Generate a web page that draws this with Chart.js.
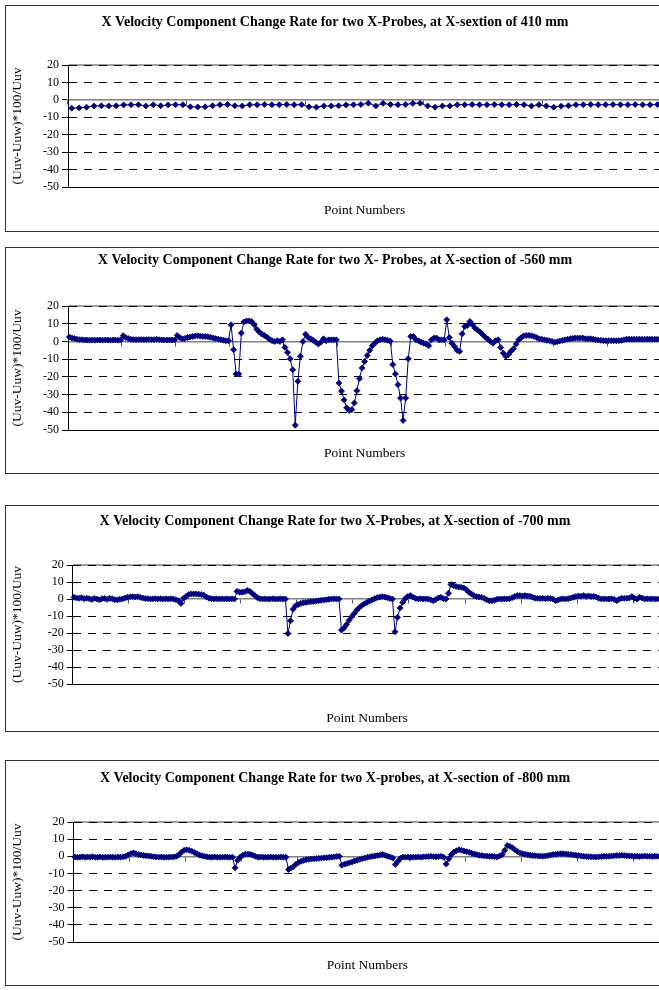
<!DOCTYPE html>
<html>
<head>
<meta charset="utf-8">
<script src="https://cdn.jsdelivr.net/npm/chart.js@4.4.1/dist/chart.umd.min.js"></script>
<style>
  html, body { margin: 0; padding: 0; background: #fff; width: 659px; height: 990px; overflow: hidden; }
  .panel { position: absolute; left: 5px; width: 660px; border: 1px solid #333; background: #fff; }
  .panel canvas { display: block; }
</style>
</head>
<body>
<div class="panel" id="p410"><canvas></canvas></div>
<div class="panel" id="p560"><canvas></canvas></div>
<div class="panel" id="p700"><canvas></canvas></div>
<div class="panel" id="p800"><canvas></canvas></div>
<script>
// Titel der vier Diagramme
const titles = [
  "X Velocity Component Change Rate for two X-Probes, at X-sextion of 410 mm",
  "X Velocity Component Change Rate for two X- Probes, at X-section of -560 mm",
  "X Velocity Component Change Rate for two X-Probes, at X-section of -700 mm",
  "X Velocity Component Change Rate for two X-probes, at X-section of -800 mm",
];
const xTitle = "Point Numbers";
const yTitle = "(Uuv-Uuw)*100/Uuv";
const yTicks = [20, 10, 0, -10, -20, -30, -40, -50];

const rate410 = [
  -4.8, -4.6, -4.2, -3.5, -3.4, -3.5, -3.4, -2.9, -2.8, -2.8, -3.5, -2.8, -3.4, -2.9, -2.8, -2.8,
  -4.0, -4.1, -4.0, -3.4, -2.8, -2.7, -3.4, -3.5, -2.8, -2.8, -2.7, -2.8, -2.8, -2.7, -2.8, -2.8,
  -4.0, -4.2, -3.5, -3.5, -3.4, -2.9, -2.8, -2.7, -1.9, -3.5, -2.0, -2.7, -2.8, -2.7, -2.0, -1.9,
  -3.5, -4.2, -3.5, -3.5, -2.8, -2.8, -2.7, -2.8, -2.8, -2.7, -2.8, -2.8, -2.7, -2.8, -3.5, -2.8,
  -3.5, -4.2, -3.6, -3.4, -2.8, -2.8, -2.7, -2.8, -2.8, -2.7, -2.8, -2.8, -2.7, -2.8, -2.8, -2.7,
];

const rate560 = [
  2.5, 2.0, 1.6, 1.3, 1.0, 1.0, 0.8, 0.8, 0.7, 0.8, 0.7, 0.8, 0.8, 0.7, 0.8, 0.8, 0.7, 0.8, 0.8, 0.7, 0.8,
  3.2, 2.2, 1.6, 1.2, 1.0, 1.0, 1.0, 1.1, 1.0, 1.0, 1.1, 1.0, 1.0, 1.2, 1.0, 0.9, 0.8, 0.8, 0.8, 0.8, 0.8,
  3.4, 2.2, 1.5, 1.7, 2.2, 2.5, 2.8, 3.0, 3.2, 3.0, 2.8, 2.8, 2.7, 2.3, 2.0, 1.6, 1.3, 1.0, 0.7, 0.4, 0.4,
  9.4, -4.7, -18.4, -18.4, 4.7, 11.0, 11.6, 11.6, 11.3, 9.4, 6.9, 5.3, 4.1, 3.4, 2.4, 1.3, 0.4, 0.0, 0.4, 0.0, 0.9,
  -3.4, -6.2, -9.8, -16.0, -47.3, -22.5, -8.4, 0.0, 4.1, 2.2, 1.5, 0.6, -0.4, -1.5, -0.4, 1.5, 0.4, 0.9, 0.9, 0.9, 0.9,
  -23.5, -28.0, -33.0, -37.5, -39.0, -38.5, -34.7, -27.8, -21.0, -15.0, -11.3, -7.9, -5.0, -2.4, -1.0, 0.4, 0.9, 1.3, 0.9, 0.6, 0.2,
  -13.0, -18.4, -24.4, -32.0, -44.6, -32.0, -9.8, 2.8, 2.8, 0.9, 0.4, -0.4, -1.0, -1.5, -2.4, 0.9, 1.9, 1.9, 0.9, 0.9, 0.9,
  12.2, 2.2, -1.0, -2.8, -5.0, -5.6, 4.3, 8.4, 9.0, 11.3, 9.4, 7.5, 6.4, 5.3, 3.8, 2.4, 1.3, 0.0, -1.0, 0.4, 0.9,
  -3.4, -6.6, -8.4, -7.5, -5.6, -4.1, -1.5, 0.9, 2.2, 3.2, 3.4, 3.4, 3.2, 2.8, 2.2, 1.5, 1.3, 0.9, 0.6, 0.4, 0.0,
  -0.4, -0.2, 0.2, 0.5, 0.9, 1.2, 1.5, 1.7, 1.9, 1.9, 1.9, 1.9, 1.5, 1.5, 1.5, 1.3, 0.9, 0.8, 0.6, 0.4, 0.4,
  0.4, 0.4, 0.4, 0.4, 0.4, 0.6, 0.9, 1.3, 1.3, 1.2, 1.3, 1.3, 1.3, 1.2, 1.3, 1.3, 1.3, 1.3, 1.2, 1.3, 1.3,
];

const rate700 = [
  1.0, 0.6, 0.4, 0.8, 0.2, 0.5, 0.2, -0.3, 0.4, 0.0, -0.5, 0.2, 0.3, -0.2, 0.4, 0.2, -0.4, -0.5, -0.2, 0.0, 0.6,
  1.0, 1.3, 1.4, 1.2, 1.4, 1.0, 0.6, 0.3, 0.2, 0.0, 0.1, 0.2, 0.0, 0.2, 0.0, 0.1, 0.0, 0.2, 0.0, -0.4, -1.0,
  -2.6, 0.5, 1.5, 2.6, 3.0, 3.0, 3.0, 2.8, 2.6, 2.2, 1.2, 0.4, 0.2, 0.0, 0.1, 0.0, 0.1, 0.0, 0.1, 0.0, 0.1, 0.0,
  4.5, 4.0, 4.0, 4.2, 5.0, 4.5, 3.2, 2.0, 0.8, 0.2, 0.0, 0.1, 0.0, 0.0, 0.1, 0.0, 0.0, 0.1, 0.0, 0.0,
  -20.3, -12.8, -6.0, -4.0, -3.2, -2.6, -2.2, -2.0, -1.8, -1.5, -1.4, -1.2, -1.0, -0.8, -0.6, -0.4, -0.2, 0.0, 0.1, 0.0, 0.0,
  -18.3, -17.0, -15.0, -12.5, -10.5, -8.5, -6.5, -5.0, -3.8, -2.8, -2.0, -1.2, -0.5, 0.2, 0.8, 1.2, 1.4, 1.2, 0.8, 0.3, 0.0,
  -19.3, -10.8, -5.3, -2.0, 0.2, 1.4, 2.0, 1.2, 0.4, 0.0, 0.2, 0.0, 0.1, 0.0, -0.4, -1.0, -0.4, 0.6, 1.0, 0.2, 0.0,
  3.4, 8.5, 7.9, 7.3, 7.1, 6.9, 6.5, 5.5, 4.0, 3.0, 2.0, 1.4, 1.2, 1.0, 0.4, -0.5, -1.0, -1.0, -0.8, -0.2, 0.0,
  0.0, 0.1, 0.0, 0.2, 0.8, 1.5, 2.0, 2.0, 1.8, 2.0, 1.8, 1.6, 1.0, 0.5, 0.4, 0.3, 0.4, 0.2, 0.4, 0.3, 0.0,
  -1.0, -0.6, 0.0, 0.1, 0.0, 0.2, 0.6, 1.0, 1.5, 1.8, 1.6, 2.0, 1.5, 1.8, 1.5, 1.6, 1.2, 0.4, 0.0, 0.1, 0.0,
  0.0, 0.1, -0.2, -1.0, -0.2, 0.5, 0.4, 0.5, 0.6, 1.4, 0.4, 0.0, 1.0, 0.6, 0.0, 0.1, 0.0, 0.1, 0.0, 0.0, 0.1,
];

const rate800 = [
  -0.4, -0.6, -0.5, -0.3, -0.6, -0.4, -0.5, -0.2, -0.6, -0.5, -0.4, -0.6, -0.5, -0.5, -0.4, -0.6, -0.5, -0.4, -0.5, -0.3, 0.0,
  0.8, 1.5, 2.0, 1.5, 1.0, 0.8, 0.5, 0.3, 0.2, 0.0, -0.2, -0.4, -0.5, -0.4, -0.6, -0.5, -0.5, -0.4, -0.3,
  0.0, 1.0, 2.5, 3.5, 3.8, 3.5, 3.0, 2.2, 1.5, 0.8, 0.3, 0.0, -0.3, -0.5, -0.5, -0.4, -0.6, -0.5, -0.5, -0.4, -0.5, -0.6,
  -0.5, -6.7, -2.3, -0.5, 0.6, 1.2, 1.3, 1.2, 0.6, 0.0, -0.5, -0.4, -0.6, -0.5, -0.5, -0.4, -0.6, -0.5, -0.5, -0.4, -0.5, -0.6,
  -7.7, -6.8, -6.0, -4.5, -3.6, -2.9, -2.4, -2.0, -1.8, -1.6, -1.5, -1.3, -1.2, -1.0, -0.9, -0.8, -0.6, -0.5, -0.3, -0.1, 0.0,
  -5.2, -4.6, -4.2, -3.8, -3.3, -2.8, -2.3, -1.9, -1.4, -1.0, -0.6, -0.3, 0.0, 0.2, 0.5, 0.8, 1.0, 0.6, 0.0, -0.4, -1.0, -4.8,
  -3.0, -1.2, -0.4, -0.5, -0.4, -0.6, -0.5, -0.5, -0.4, -0.5, -0.3, -0.2, -0.1, 0.0, -0.2, -0.3, -0.1, 0.0, -0.5,
  -4.5, -1.5, 1.0, 2.5, 3.2, 3.8, 3.5, 3.1, 2.7, 2.3, 1.8, 1.4, 1.0, 0.6, 0.4, 0.2, 0.1, 0.0, 0.0, -0.2, -0.4,
  0.2, 1.0, 3.5, 6.3, 5.8, 5.0, 3.8, 2.8, 2.0, 1.5, 1.2, 0.9, 0.6, 0.4, 0.3, 0.2, 0.1, 0.0, 0.2, 0.4, 0.8,
  1.0, 1.2, 1.4, 1.5, 1.5, 1.3, 1.2, 1.0, 0.8, 0.6, 0.4, 0.2, 0.0, -0.1, -0.2, -0.3, -0.4, -0.4, -0.3, -0.2, 0.0,
  0.0, 0.0, 0.1, 0.3, 0.4, 0.5, 0.6, 0.5, 0.3, 0.2, 0.1, 0.0, 0.0, -0.1, 0.0, 0.1, 0.0, 0.0, -0.1, 0.0, 0.0, 0.0,
];

// Abstand der Teilstriche auf der x-Achse (Punkte pro Traverse)
const tickEvery = [16, 21, 22, 22];

// Layout in Seitenkoordinaten (px)
const layouts = [
  { top: 5,   bottom: 232, plotTop: 65,  plotBottom: 187, plotLeft: 68,   titleMid: 22.4, xTitleMid: 210, yTitleX: 17 },
  { top: 247, bottom: 474, plotTop: 306, plotBottom: 430, plotLeft: 68,   titleMid: 260.5, xTitleMid: 453, yTitleX: 17 },
  { top: 505, bottom: 732, plotTop: 565, plotBottom: 684, plotLeft: 72.7, titleMid: 521.5, xTitleMid: 718, yTitleX: 17 },
  { top: 760, bottom: 986, plotTop: 822, plotBottom: 942, plotLeft: 73.5, titleMid: 778.5, xTitleMid: 965, yTitleX: 17 },
];

const NAVY = "#000080";
const SERIF = "'Liberation Serif', 'Times New Roman', serif";
const CANVAS_W = 660;
const CANVAS_LEFT = 6; // Seiten-x der Canvas (Rahmen bei 5)
const TITLE_SIZE = 14;
const AXIS_TITLE_SIZE = 13.5;

// graue Linie am oberen Rand der Zeichenfläche (Excel-Plotrahmen)
const plotFrame = {
  id: "plotFrame",
  beforeDraw(chart) {
    const { ctx, chartArea } = chart;
    ctx.save();
    ctx.strokeStyle = "#808080";
    ctx.lineWidth = 1.5;
    ctx.beginPath();
    ctx.moveTo(chartArea.left, chartArea.top);
    ctx.lineTo(chartArea.right, chartArea.top);
    ctx.stroke();
    ctx.restore();
  },
};

function makeChart(panelId, idx, values) {
  const L = layouts[idx];
  const panel = document.getElementById(panelId);
  const H = L.bottom - L.top - 2;
  const canvasTop = L.top + 1;
  panel.style.top = L.top + "px";
  panel.style.height = H + "px";
  const canvas = panel.querySelector("canvas");
  canvas.width = CANVAS_W;
  canvas.height = H;

  const tLh = TITLE_SIZE * 1.2;
  const aLh = AXIS_TITLE_SIZE * 1.2;
  const titlePadTop = L.titleMid - canvasTop - tLh / 2;
  const titlePadBottom = L.plotTop - canvasTop - titlePadTop - tLh;
  const x2Height = canvasTop + H - L.plotBottom;
  const xTitlePadBottom = canvasTop + H - L.xTitleMid - aLh / 2;
  const yWidth = L.plotLeft - CANVAS_LEFT;
  const yTitlePadTop = L.yTitleX - CANVAS_LEFT - aLh / 2;
  const every = tickEvery[idx];

  const labels = values.map((_, i) => String(i + 1));

  return new Chart(canvas, {
    type: "line",
    data: {
      labels,
      datasets: [
        {
          data: values,
          xAxisID: "x",
          yAxisID: "y",
          borderColor: NAVY,
          backgroundColor: NAVY,
          borderWidth: 1,
          tension: 0,
          pointStyle: "rectRot",
          pointRadius: 3,
          pointBorderWidth: 0.8,
          pointBorderColor: NAVY,
          pointBackgroundColor: NAVY,
        },
      ],
    },
    options: {
      responsive: false,
      animation: false,
      events: [],
      layout: { padding: { left: 0, right: 2, top: 0, bottom: 0 } },
      plugins: {
        legend: { display: false },
        tooltip: { enabled: false },
        title: {
          display: true,
          text: titles[idx],
          color: "#000",
          font: { family: SERIF, size: TITLE_SIZE, weight: "bold" },
          padding: { top: titlePadTop, bottom: titlePadBottom },
        },
      },
      scales: {
        x: {
          type: "category",
          position: { y: 0 },
          offset: true,
          ticks: { display: false },
          grid: {
            offset: true,
            drawOnChartArea: false,
            drawTicks: true,
            tickLength: 4,
            tickWidth: 1,
            tickColor: (c) => (c.index % every === 0 ? "#555" : "rgba(0,0,0,0)"),
          },
          border: { display: true, color: "#808080", width: 1.5 },
        },
        x2: {
          type: "category",
          position: "bottom",
          ticks: { display: false },
          grid: { display: false, drawTicks: false },
          border: { display: true, color: "#000", width: 1 },
          title: {
            display: true,
            text: xTitle,
            color: "#000",
            font: { family: SERIF, size: AXIS_TITLE_SIZE },
            padding: { top: 0, bottom: xTitlePadBottom },
          },
          afterFit: (s) => { s.height = x2Height; },
        },
        y: {
          min: -50,
          max: 20,
          afterBuildTicks: (s) => { s.ticks = yTicks.map((v) => ({ value: v })); },
          ticks: { color: "#000", font: { family: SERIF, size: 12 }, padding: 3, autoSkip: false },
          grid: {
            color: (c) => (c.tick && (c.tick.value === 0 || c.tick.value === -50) ? "rgba(0,0,0,0)" : "#000"),
            lineWidth: 1,
            drawTicks: true,
            tickLength: 6,
            tickColor: "#000",
          },
          border: { display: true, color: "#000", width: 1, dash: [8, 7] },
          title: {
            display: true,
            text: yTitle,
            color: "#000",
            font: { family: SERIF, size: AXIS_TITLE_SIZE },
            padding: { top: yTitlePadTop, bottom: 0 },
          },
          afterFit: (s) => { s.width = yWidth; },
        },
      },
    },
    plugins: [plotFrame],
  });
}

makeChart("p410", 0, rate410);
makeChart("p560", 1, rate560);
makeChart("p700", 2, rate700);
makeChart("p800", 3, rate800);
</script>
</body>
</html>
